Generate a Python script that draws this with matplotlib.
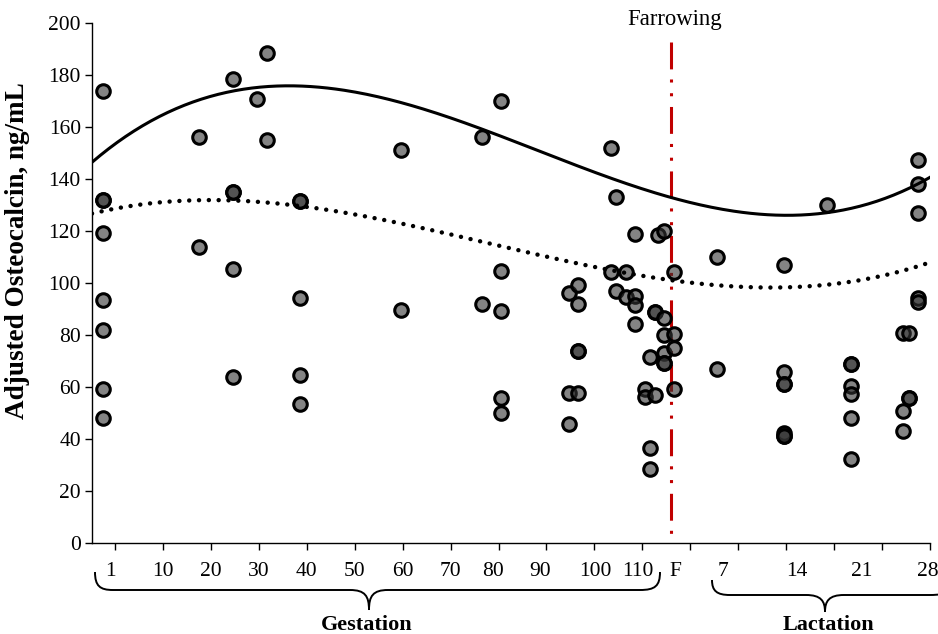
import numpy as np
import matplotlib

matplotlib.use("Agg")
import matplotlib.pyplot as plt
from matplotlib.path import Path
from matplotlib.patches import PathPatch
from matplotlib.transforms import Affine2D

W, H = 938, 634

# position of each sampling group on the timeline axis (gestation days, then lactation spread after F)
GROUP_X = [-2.44, 17.58, 24.55, 29.68, 31.64, 38.59, 59.6, 76.6, 80.5, 94.6,
           96.6, 103.5, 104.6, 106.5, 108.5, 110.6, 111.6, 112.6, 113.3, 114.5,
           116.6, 125.5, 139.6, 148.6, 153.5, 164.4, 165.7, 167.6]

# adjusted osteocalcin (ng/mL) values per group; repeated values sit on top of each other
GROUP_Y = [
    [173.8, 131.9, 131.9, 119.3, 93.5, 81.9, 59.1, 48.0],
    [156.3, 114.0],
    [178.3, 135.1, 135.1, 105.3, 63.7],
    [170.9],
    [188.3, 155.0],
    [131.5, 131.5, 94.1, 64.5, 53.5],
    [151.0, 89.6],
    [156.3, 91.8],
    [170.0, 104.8, 89.3, 55.9, 49.9],
    [96.3, 57.8, 45.8],
    [99.2, 91.8, 74.0, 74.0, 57.8],
    [152.0, 104.1],
    [133.2, 96.9],
    [104.1, 94.5],
    [118.8, 95.0, 91.4, 84.1],
    [59.1, 56.3],
    [71.4, 36.4, 28.3],
    [88.7, 88.7, 56.9],
    [118.5],
    [120.0, 86.4, 80.0, 73.2, 69.1, 69.1],
    [104.1, 80.5, 74.9, 59.1],
    [110.1, 66.8],
    [106.9, 65.9, 61.2, 61.2, 42.4, 41.0, 41.0],
    [129.9],
    [68.8, 68.8, 60.5, 57.3, 48.2, 32.2],
    [80.6, 50.9, 43.2],
    [80.6, 55.6, 55.6],
    [147.3, 137.9, 127.0, 94.1, 92.6],
]

# values
UPPER_TREND_X = [-4.53, 6.61, 20.5, 35.8, 55.3, 76.1, 97.0, 116.0, 139.4, 151.2, 167.6, 170.0]
UPPER_TREND_Y = [146.7, 161.4, 172.3, 175.9, 171.7, 158.8, 144.7, 133.2, 125.8, 128.2, 138.3, 140.4]
LOWER_TREND_X = [-4.53, 9.39, 21.9, 34.4, 55.3, 76.1, 97.0, 115.1, 118.5, 137.3, 151.2, 165.1, 169.3]
LOWER_TREND_Y = [126.8, 130.9, 131.9, 130.7, 124.9, 115.5, 106.9, 101.8, 100.5, 98.6, 99.6, 105.0, 107.6]

FARROWING_X = 116.0

TICK_LABELS = ["1", "10", "20", "30", "40", "50", "60", "70", "80", "90",
               "100", "110", "F", "7", "14", "21", "28"]
TICK_LABEL_POS = [-1.0, 10, 20, 30, 40, 50, 60, 70, 78.9, 88.7,
                  100.1, 109.0, 116.8, 126.8, 142.3, 155.8, 169.6]

SERIF = "Liberation Serif"


def px_transform(fig):
    # pixel coordinates measured from the top-left corner of the figure
    return Affine2D().scale(1.0 / W, -1.0 / H).translate(0, 1) + fig.transFigure


def brace(fig, x0, y_top, x_left, y_mid, xm, y_tip, x_right, x1, y_end):
    verts = [
        (x0, y_top),
        (x0, y_mid - 4), (x0 + 5, y_mid), (x_left, y_mid),
        (xm - 19, y_mid),
        (xm - 4, y_mid), (xm, y_mid + 6), (xm, y_tip),
        (xm, y_mid + 6), (xm + 4, y_mid), (xm + 19, y_mid),
        (x_right, y_mid),
        (x1 - 5, y_mid), (x1, y_mid - 4), (x1, y_end),
    ]
    codes = [Path.MOVETO,
             Path.CURVE4, Path.CURVE4, Path.CURVE4,
             Path.LINETO,
             Path.CURVE4, Path.CURVE4, Path.CURVE4,
             Path.CURVE4, Path.CURVE4, Path.CURVE4,
             Path.LINETO,
             Path.CURVE4, Path.CURVE4, Path.CURVE4]
    patch = PathPatch(Path(verts, codes), fill=False, lw=1.4, edgecolor="black",
                      transform=px_transform(fig))
    fig.add_artist(patch)


def main():
    fig = plt.figure(figsize=(W / 100, H / 100), dpi=100)
    ax = fig.add_axes([92 / W, 1 - 543 / H, (930 - 92) / W, (543 - 23) / H])

    xs = []
    ys = []
    for gx, vals in zip(GROUP_X, GROUP_Y):
        for v in vals:
            xs.append(gx)
            ys.append(v)

    ax.scatter(xs, ys, s=95, facecolor=(0.2, 0.2, 0.2, 0.6), edgecolor="black",
               linewidths=2.2, zorder=3, clip_on=False)

    grid = np.linspace(-4.8, 170, 300)
    upper = np.polyval(np.polyfit(UPPER_TREND_X, UPPER_TREND_Y, 3), grid)
    lower = np.polyval(np.polyfit(LOWER_TREND_X, LOWER_TREND_Y, 3), grid)
    ax.plot(grid, upper, color="black", lw=2.2, zorder=4)
    ax.plot(grid, lower, color="black", lw=3.2, linestyle=(0, (0.01, 2.2)),
            dash_capstyle="round", zorder=4)

    ax.plot([FARROWING_X, FARROWING_X], [192.8, 0], color="#C00000", lw=2.2,
            linestyle=(0, (8.8, 3.3, 1, 3.5, 1, 3.5)), zorder=2, clip_on=False)

    ax.set_xlim(-4.8, 170)
    ax.set_ylim(0, 200)
    ax.set_xticks(range(0, 171, 10))
    ax.set_xticklabels([])
    ax.set_yticks(range(0, 201, 20))
    ax.set_yticklabels([str(v) for v in range(0, 201, 20)], family=SERIF, fontsize=15.5)
    ax.tick_params(axis="both", direction="out", length=5, width=1.0, pad=3)
    for side in ("top", "right"):
        ax.spines[side].set_visible(False)
    for side in ("left", "bottom"):
        ax.spines[side].set_linewidth(1.0)

    tr = px_transform(fig)
    for lab, pos in zip(TICK_LABELS, TICK_LABEL_POS):
        px = 115 + pos * 4.794
        fig.text(px, 572, lab, transform=tr, ha="center", va="center",
                 family=SERIF, fontsize=15.5)

    fig.text(675, 19, "Farrowing", transform=tr, ha="center", va="center",
             family=SERIF, fontsize=16.4)
    fig.text(18, 251, "Adjusted Osteocalcin, ng/mL", transform=tr, rotation=90,
             ha="center", va="center", family=SERIF, fontsize=19.5, fontweight="bold")
    fig.text(367, 625, "Gestation", transform=tr, ha="center", va="center",
             family=SERIF, fontsize=16, fontweight="bold")
    fig.text(828, 625, "Lactation", transform=tr, ha="center", va="center",
             family=SERIF, fontsize=16, fontweight="bold")

    brace(fig, 95, 572, 113, 590, 369, 610, 640, 660, 572)
    brace(fig, 712, 580, 730, 595, 825, 612, 930, 952, 583)

    fig.savefig("out.png", dpi=100)


if __name__ == "__main__":
    main()
